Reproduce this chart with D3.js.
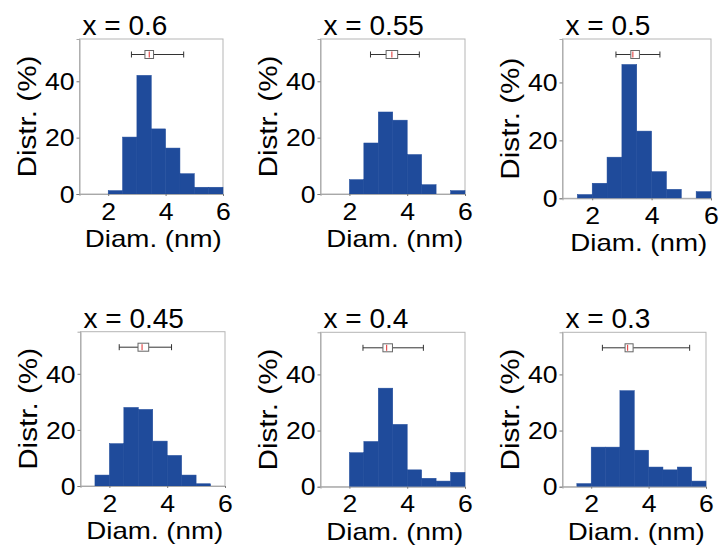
<!DOCTYPE html>
<html>
<head>
<meta charset="utf-8">
<script src="https://cdn.jsdelivr.net/npm/d3@7"></script>
<style>
  html, body { margin: 0; padding: 0; background: #fff; }
  svg { display: block; font-family: "Liberation Sans", Arial, sans-serif; }
</style>
</head>
<body>
<svg id="chart" width="721" height="547"></svg>
<script>
// ---- Data ----
const panelTitles = ["x = 0.6", "x = 0.55", "x = 0.5", "x = 0.45", "x = 0.4", "x = 0.3"];
const binStarts = [1.5, 2, 2.5, 3, 3.5, 4, 4.5, 5, 5.5];
const binWidth = 0.5;
const dist06  = [0, 1.2, 20.2, 42.1, 23.1, 16.3, 7.2, 2.4, 2.4];
const dist055 = [0, 5.1, 18.1, 29.1, 26.2, 14.0, 3.3, 0, 1.2];
const dist05  = [1.3, 5.2, 14.2, 46.2, 23.2, 9.2, 3.1, 0, 2.3];
const dist045 = [3.9, 15.1, 28.0, 27.3, 16.0, 10.9, 3.9, 0.8, 0];
const dist04  = [0, 12.1, 16.1, 35.1, 22.2, 6.0, 3.0, 2.0, 5.1];
const dist03  = [1.1, 14.1, 14.1, 34.2, 13.0, 7.0, 6.0, 7.0, 2.0];
const distributions = [dist06, dist055, dist05, dist045, dist04, dist03];

// box plot stats: [whisker low, q1, median, q3, whisker high]
const box06  = [2.81, 3.28, 3.43, 3.58, 4.63];
const box055 = [2.73, 3.27, 3.47, 3.67, 4.42];
const box05  = [2.80, 3.30, 3.37, 3.59, 4.28];
const box045 = [2.34, 2.99, 3.13, 3.36, 4.15];
const box04  = [2.47, 3.16, 3.29, 3.49, 4.56];
const box03  = [2.39, 3.18, 3.27, 3.46, 5.43];
const boxes = [box06, box055, box05, box045, box04, box03];

const xTicks = [2, 4, 6];
const yTicks = [0, 20, 40];
const xDomain = [1, 6];
const yDomain = [0, 55];
const xLabel = "Diam. (nm)";
const yLabel = "Distr. (%)";

// ---- Layout (frame of each panel in px) ----
const frames = [
  {l: 79.5,  r: 223, t: 39,    b: 194},
  {l: 320.5, r: 465, t: 39,    b: 194},
  {l: 562.5, r: 711, t: 39,    b: 198.3},
  {l: 80.5,  r: 225, t: 331.7, b: 486},
  {l: 320.5, r: 465, t: 332.3, b: 486.7},
  {l: 562.5, r: 706, t: 332.3, b: 486.7}
];

const svg = d3.select("#chart");
const barFill = "#1f4b9b";
const FONT = "Liberation Sans, Arial, sans-serif";

frames.forEach((f, i) => {
  const x = d3.scaleLinear().domain(xDomain).range([f.l, f.r]);
  const y = d3.scaleLinear().domain(yDomain).range([f.b, f.t]);
  const g = svg.append("g");

  // frame
  g.append("rect")
    .attr("x", f.l).attr("y", f.t)
    .attr("width", f.r - f.l).attr("height", f.b - f.t)
    .attr("fill", "none").attr("stroke", "#b5b5b5").attr("stroke-width", 1);

  // bars
  const data = binStarts.map((s, k) => ({s, v: distributions[i][k]})).filter(d => d.v > 0);
  g.selectAll("rect.bar").data(data).enter().append("rect")
    .attr("class", "bar")
    .attr("x", d => x(d.s))
    .attr("width", d => x(d.s + binWidth) - x(d.s))
    .attr("y", d => y(d.v))
    .attr("height", d => y(0) - y(d.v))
    .attr("fill", barFill)
    .attr("stroke", barFill).attr("stroke-width", 0.5);

  // axes
  const yAxis = d3.axisLeft(y).tickValues(yTicks).tickFormat(d3.format("d")).tickSize(3).tickPadding(2);
  const ya = g.append("g").attr("transform", `translate(${f.l},0)`).call(yAxis);
  ya.select(".domain").attr("stroke", "#a8a8a8");
  ya.selectAll(".tick line").attr("stroke", "#777");
  ya.selectAll(".tick text").attr("font-size", 23).attr("fill", "#000")
    .attr("font-family", FONT).attr("dy", "0.36em")
    .attr("textLength", d => String(d).length * 14.8).attr("lengthAdjust", "spacingAndGlyphs");

  const xAxis = d3.axisBottom(x).tickValues(xTicks).tickFormat(d3.format("d")).tickSize(2).tickPadding(7);
  const xa = g.append("g").attr("transform", `translate(0,${f.b})`).call(xAxis);
  xa.select(".domain").attr("stroke", "#a8a8a8");
  xa.selectAll(".tick line").attr("stroke", "#777");
  xa.selectAll(".tick text").attr("font-size", 23).attr("fill", "#000")
    .attr("font-family", FONT).attr("dy", "0.72em")
    .attr("textLength", d => String(d).length * 14.8).attr("lengthAdjust", "spacingAndGlyphs");

  // box plot
  const b = boxes[i];
  const by = f.t + 15.5;
  const bh = 8;
  g.append("line").attr("x1", x(b[0])).attr("x2", x(b[1])).attr("y1", by).attr("y2", by)
    .attr("stroke", "#333").attr("stroke-width", 1);
  g.append("line").attr("x1", x(b[3])).attr("x2", x(b[4])).attr("y1", by).attr("y2", by)
    .attr("stroke", "#333").attr("stroke-width", 1);
  [b[0], b[4]].forEach(v => {
    g.append("line").attr("x1", x(v)).attr("x2", x(v)).attr("y1", by - 3).attr("y2", by + 3)
      .attr("stroke", "#333").attr("stroke-width", 1);
  });
  g.append("rect").attr("x", x(b[1])).attr("y", by - bh / 2)
    .attr("width", x(b[3]) - x(b[1])).attr("height", bh)
    .attr("fill", "#fff").attr("stroke", "#666").attr("stroke-width", 1);
  g.append("line").attr("x1", x(b[2])).attr("x2", x(b[2])).attr("y1", by - bh / 2 + 1).attr("y2", by + bh / 2 - 1)
    .attr("stroke", "#e03030").attr("stroke-width", 1);

  // title
  g.append("text").attr("x", f.l + 3).attr("y", f.t - 4)
    .attr("font-size", 28).attr("fill", "#000").text(panelTitles[i]);

  // x label
  const xlw = 137;
  g.append("text").attr("x", (f.l + f.r) / 2 + 2 - xlw / 2).attr("y", f.b + 53)
    .attr("font-size", 24).attr("fill", "#000")
    .attr("textLength", xlw).attr("lengthAdjust", "spacingAndGlyphs").text(xLabel);

  // y label
  const ylw = 122;
  g.append("text")
    .attr("transform", `translate(${f.l - 44},${(f.t + f.b) / 2 + ylw / 2}) rotate(-90)`)
    .attr("font-size", 25).attr("fill", "#000")
    .attr("textLength", ylw).attr("lengthAdjust", "spacingAndGlyphs").text(yLabel);
});
</script>
</body>
</html>
